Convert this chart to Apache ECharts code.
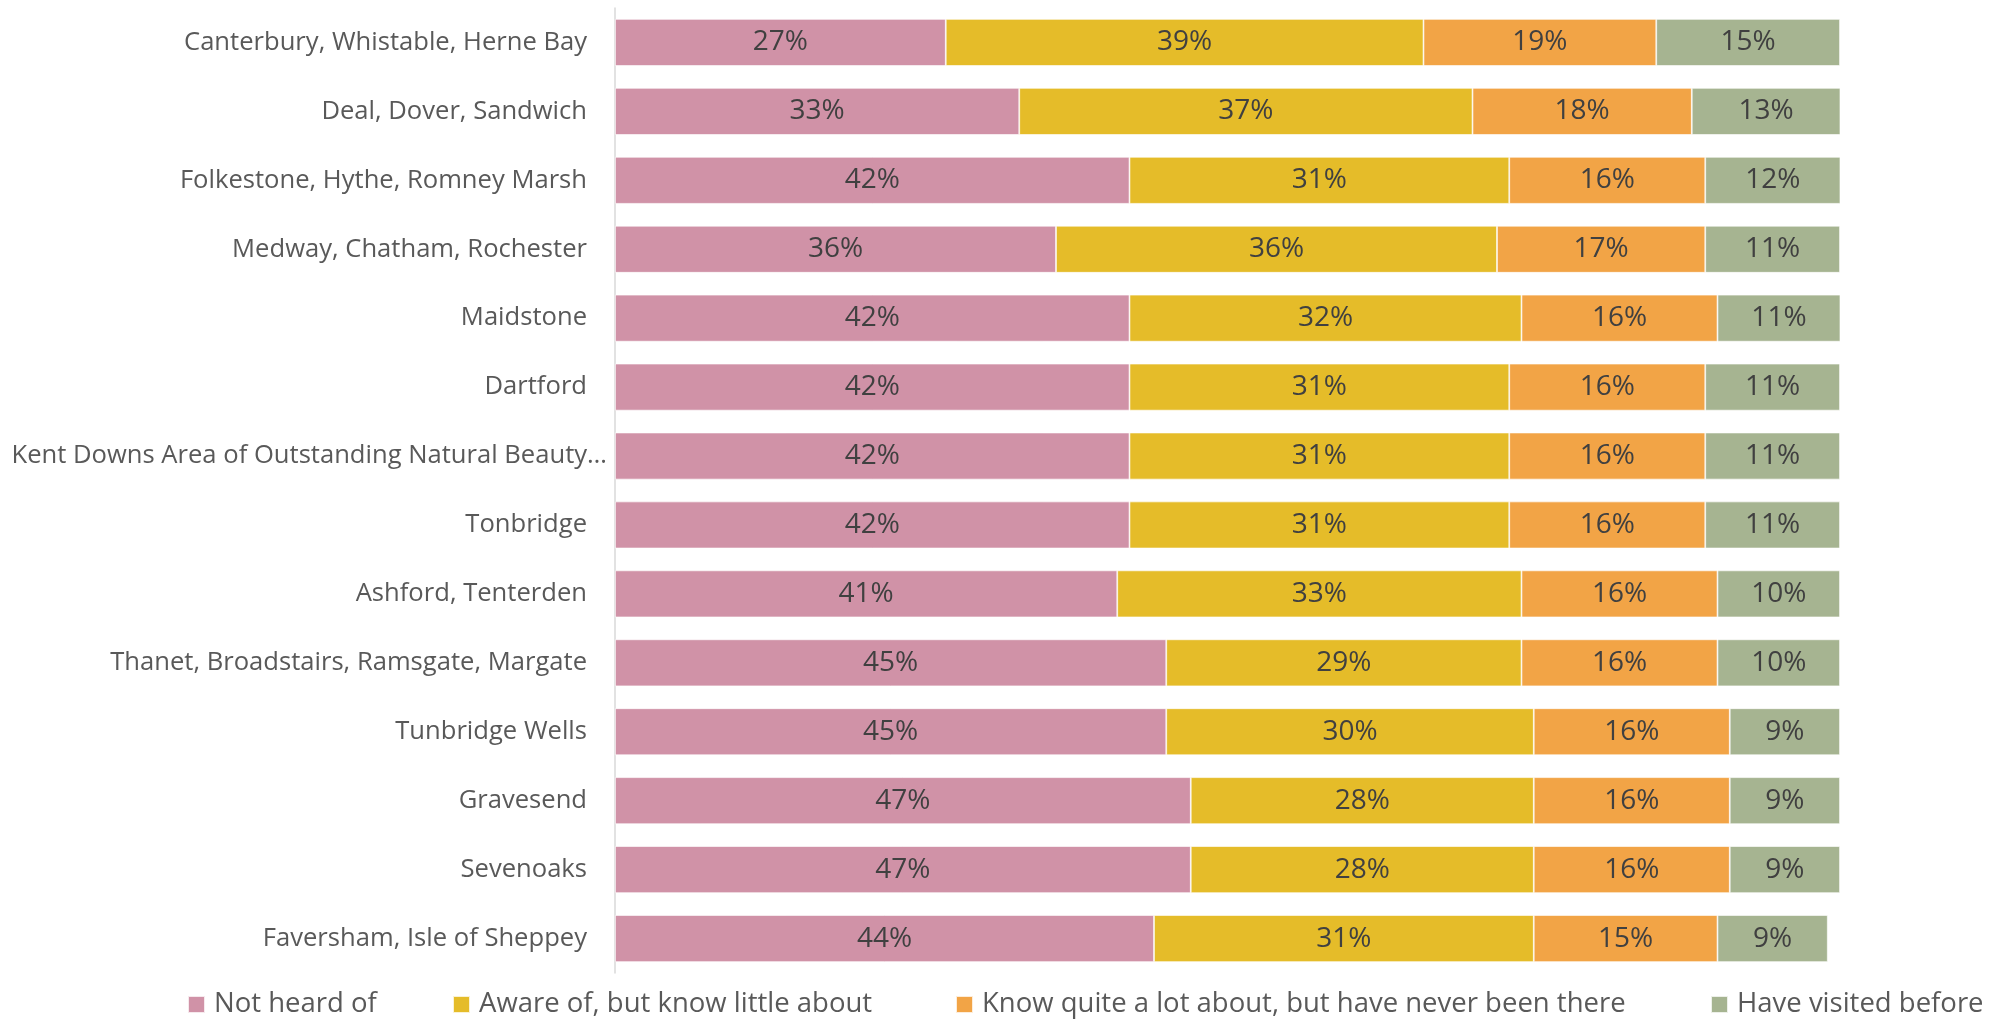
<!DOCTYPE html>
<html>
<head>
<meta charset="utf-8">
<title>Awareness of Kent destinations</title>
<script src="https://cdn.jsdelivr.net/npm/echarts@6/dist/echarts.min.js"></script>
<style>
  html, body { margin: 0; padding: 0; background: #fff; }
  #chart-awareness { width: 1992px; height: 1019px; }
</style>
</head>
<body>
<div id="chart-awareness"></div>
<script>
  // categories, top to bottom
  const areaNames = [
    'Canterbury, Whistable, Herne Bay',
    'Deal, Dover, Sandwich',
    'Folkestone, Hythe, Romney Marsh',
    'Medway, Chatham, Rochester',
    'Maidstone',
    'Dartford',
    'Kent Downs Area of Outstanding Natural Beauty…',
    'Tonbridge',
    'Ashford, Tenterden',
    'Thanet, Broadstairs, Ramsgate, Margate',
    'Tunbridge Wells',
    'Gravesend',
    'Sevenoaks',
    'Faversham, Isle of Sheppey'
  ]
  const seriesNames = [
    'Not heard of',
    'Aware of, but know little about',
    'Know quite a lot about, but have never been there',
    'Have visited before'
  ]
  // % of respondents (labels are rounded)
  const notHeardOf = [27, 33, 42, 36, 42, 42, 42, 42, 41, 45, 45, 47, 47, 44]
  const awareOf = [39, 37, 31, 36, 32, 31, 31, 31, 33, 29, 30, 28, 28, 31]
  const knowQuiteALot = [19, 17.9, 16, 17, 16, 16, 16, 16, 16, 16, 16, 16, 16, 15]
  const visitedBefore = [15, 12.5, 11.5, 11, 10.5, 11, 11, 11, 10, 10, 9, 9, 9, 9]

  const colors = ['#D092A7', '#E5BC29', '#F2A446', '#A6B491']
  const fontFamily = '"Open Sans", "Noto Sans", sans-serif'
  const legendLeft = [187, 452, 955, 1710]

  var myChart = echarts.init(document.getElementById('chart-awareness'))

  let seriesData = [notHeardOf, awareOf, knowQuiteALot, visitedBefore]
  let series = seriesData.map((data, i) => {
    return {
      name: seriesNames[i],
      type: 'bar',
      stack: 'total',
      barWidth: 47,
      data: data,
      itemStyle: {
        color: colors[i],
        borderColor: 'rgba(255,255,255,0.8)',
        borderWidth: 0.8
      },
      label: {
        show: true,
        position: 'inside',
        color: '#404040',
        fontFamily: fontFamily,
        fontSize: 28,
        formatter: (p) => Math.round(p.value) + '%'
      },
      emphasis: { disabled: true }
    }
  })

  let legends = seriesNames.map((name, i) => {
    return {
      data: [name],
      left: legendLeft[i],
      top: 990,
      padding: 0,
      icon: 'rect',
      itemWidth: 17,
      itemHeight: 17,
      selectedMode: false,
      textStyle: {
        color: '#595959',
        fontFamily: fontFamily,
        fontSize: 27.5,
        lineHeight: 29,
        padding: [0, 0, 0, 4]
      }
    }
  })

  let labelText = {
    color: '#595959',
    fontFamily: fontFamily,
    fontSize: 25.6
  }

  let chartOption = {
    animation: false,
    color: colors,
    legend: legends,
    grid: {
      left: 615,
      right: 152,
      top: 8,
      bottom: 46,
      containLabel: false,
      outerBoundsMode: 'none'
    },
    xAxis: {
      type: 'value',
      min: 0,
      max: 100,
      show: false
    },
    yAxis: {
      type: 'category',
      inverse: true,
      data: areaNames,
      axisLine: {
        show: true,
        lineStyle: { color: '#D9D9D9', width: 1.5 }
      },
      axisTick: { show: false },
      axisLabel: {
        ...labelText,
        margin: 8,
        // the cut-off name sits closer to the axis
        formatter: (value) => value.endsWith('…') ? '{cut|' + value + '}' : '{name|' + value + '}',
        rich: {
          name: { ...labelText, padding: [0, 20, 0, 0] },
          cut: { ...labelText }
        }
      }
    },
    series: series
  }
  myChart.setOption(chartOption)
</script>
</body>
</html>
